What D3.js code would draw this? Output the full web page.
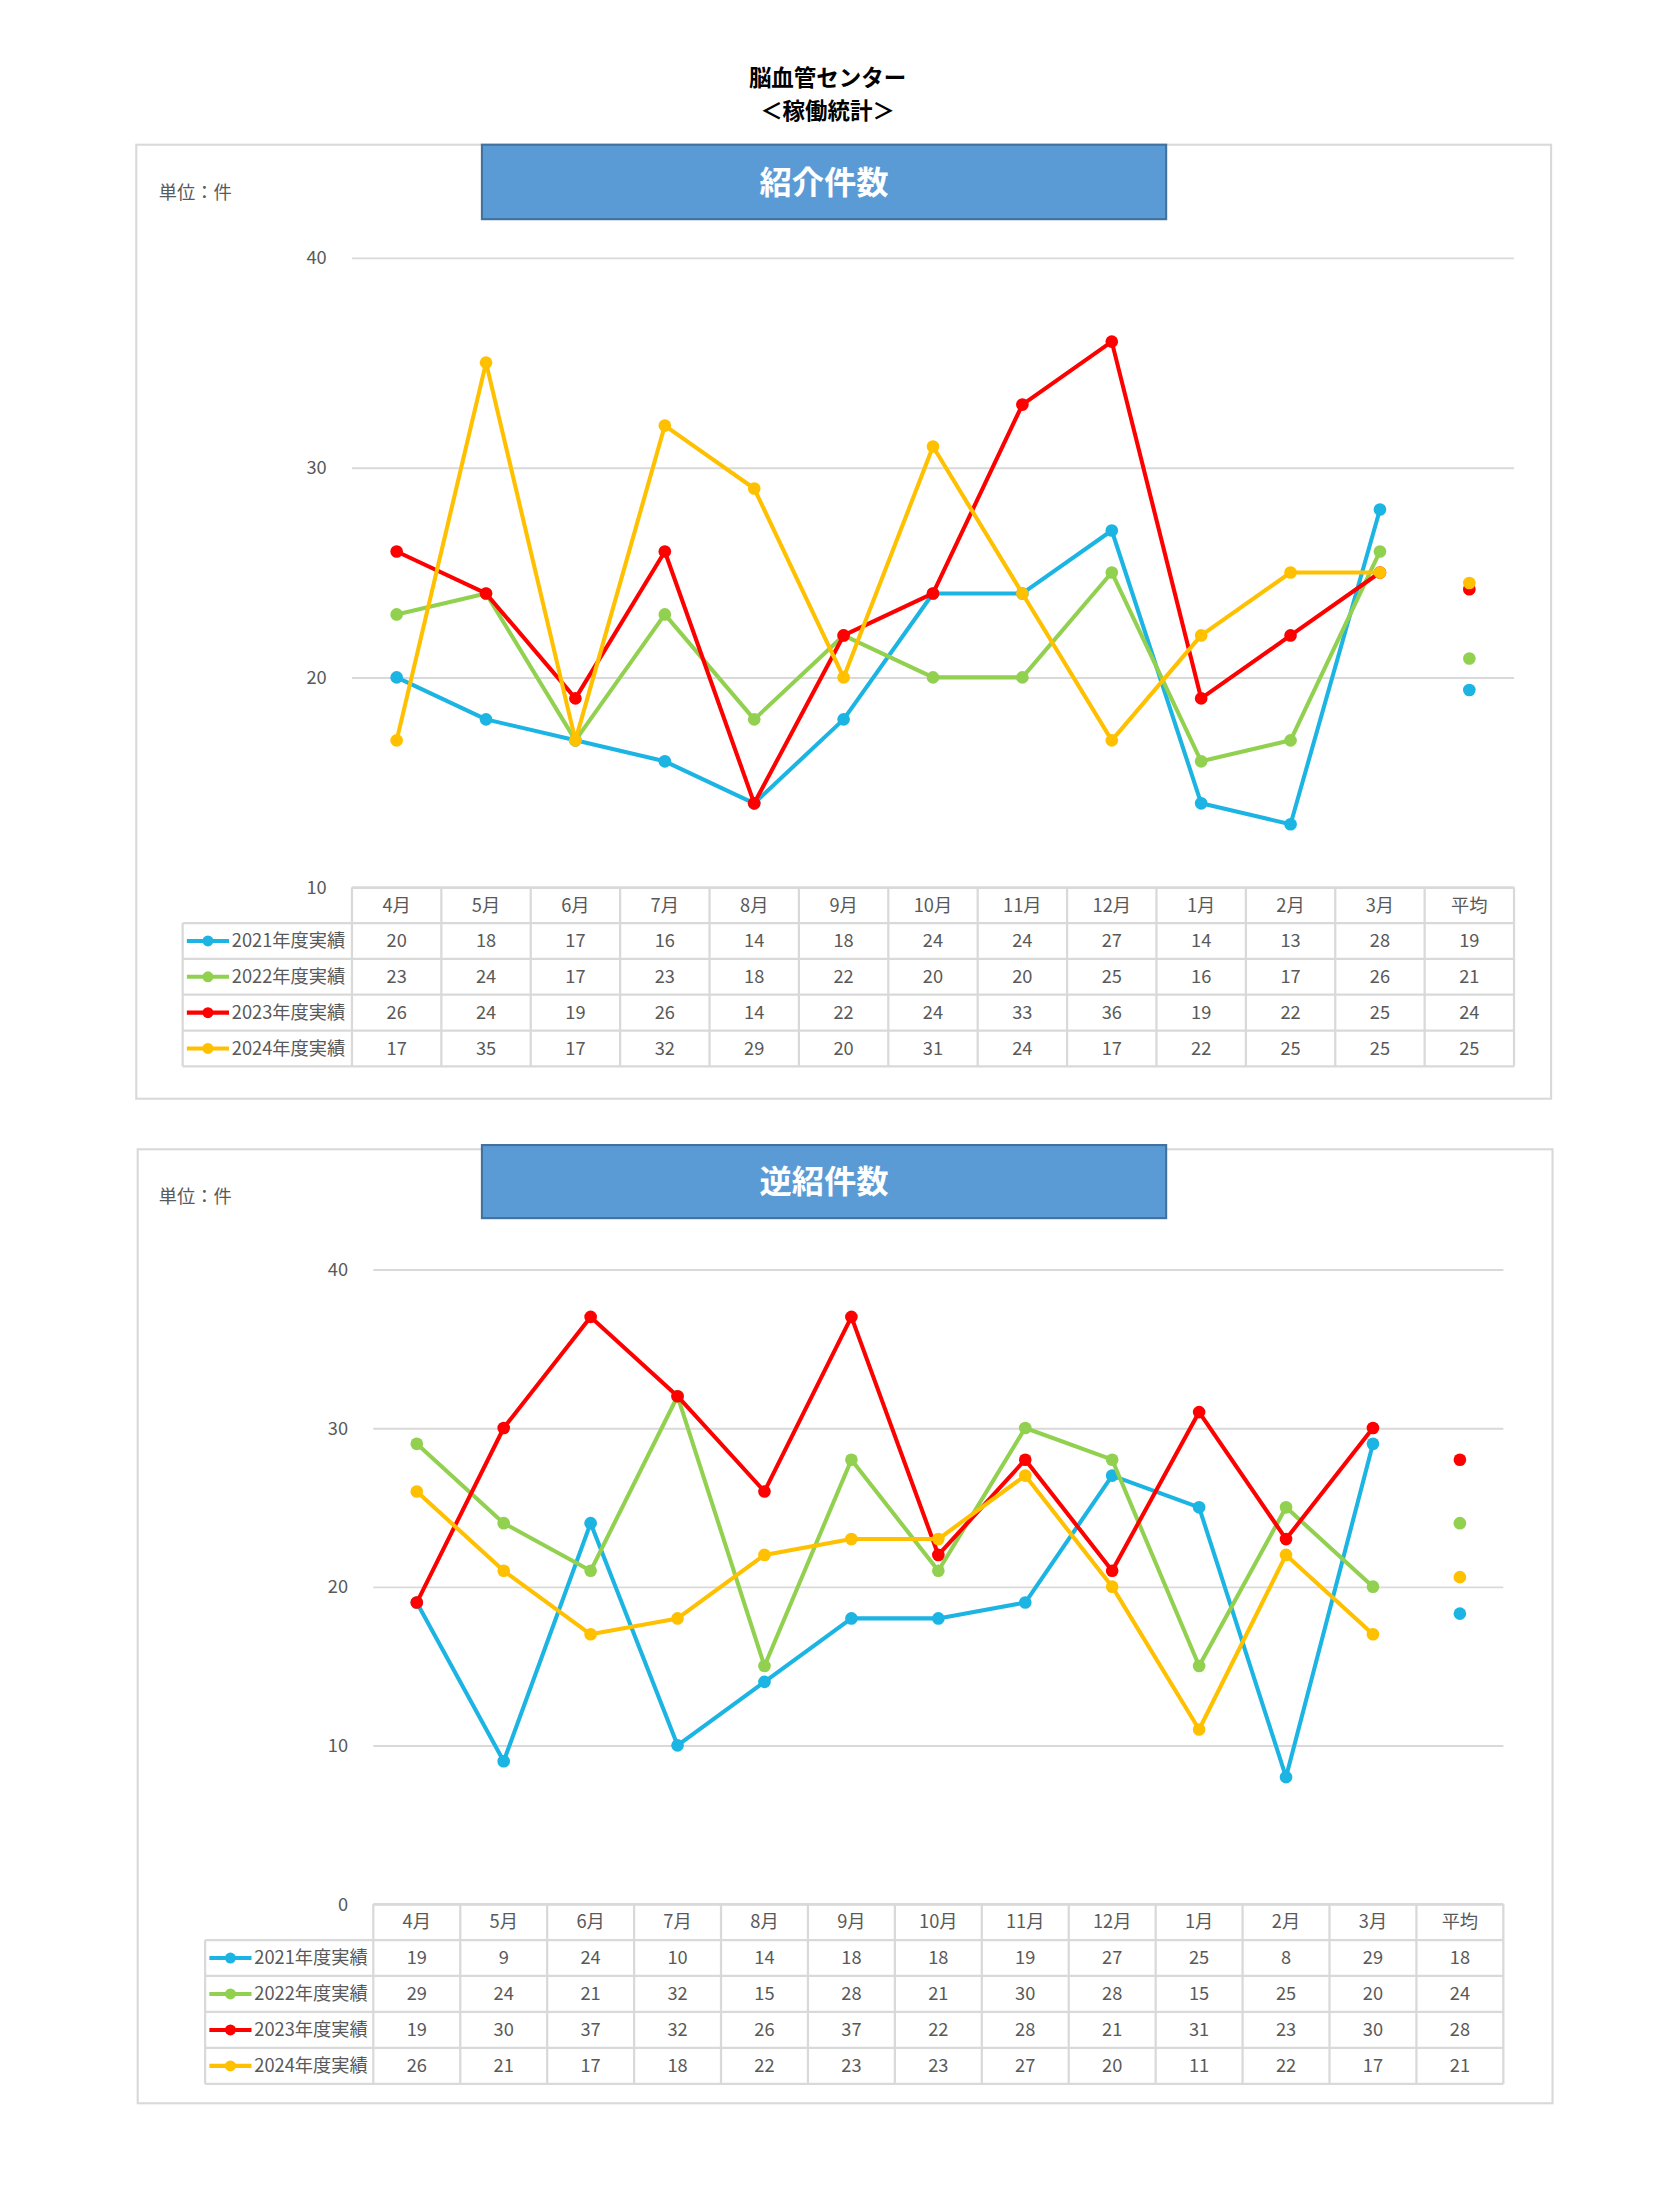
<!DOCTYPE html>
<html>
<head>
<meta charset="utf-8">
<script src="https://cdn.jsdelivr.net/npm/d3@7"></script>
<style>
  body { margin: 0; background: #fff; }
  svg { display: block; }
  text { font-family: "Noto Sans CJK JP", "Noto Sans", sans-serif; }
</style>
</head>
<body>
<div id="page"></div>
<script>
// Categories / series names
var months = ["4月", "5月", "6月", "7月", "8月", "9月", "10月", "11月", "12月", "1月", "2月", "3月"];
var avgLabel = "平均";
var yearNames = ["2021年度実績", "2022年度実績", "2023年度実績", "2024年度実績"];
var yearColors = ["#1CB4E3", "#92D050", "#FF0000", "#FFC000"];

// 紹介件数
var referral2021 = [20, 18, 17, 16, 14, 18, 24, 24, 27, 14, 13, 28];
var referral2022 = [23, 24, 17, 23, 18, 22, 20, 20, 25, 16, 17, 26];
var referral2023 = [26, 24, 19, 26, 14, 22, 24, 33, 36, 19, 22, 25];
var referral2024 = [17, 35, 17, 32, 29, 20, 31, 24, 17, 22, 25, 25];
var referralAvg = [19.4, 20.9, 24.2, 24.5];
var referralTicks = [10, 20, 30, 40];

// 逆紹件数
var reverse2021 = [19, 9, 24, 10, 14, 18, 18, 19, 27, 25, 8, 29];
var reverse2022 = [29, 24, 21, 32, 15, 28, 21, 30, 28, 15, 25, 20];
var reverse2023 = [19, 30, 37, 32, 26, 37, 22, 28, 21, 31, 23, 30];
var reverse2024 = [26, 21, 17, 18, 22, 23, 23, 27, 20, 11, 22, 17];
var reverseAvg = [18.3, 24.0, 28.0, 20.6];
var reverseTicks = [0, 10, 20, 30, 40];

// page is laid out in a 1177 x 1569 grid, then scaled up to the window
var W = 1654, H = 2204, k = 1.405;
var svg = d3.select("#page").append("svg")
    .attr("width", W)
    .attr("height", H)
    .attr("viewBox", "0 0 " + (W / k) + " " + (H / k));

// page title (two lines)
svg.append("text")
    .attr("x", 589).attr("y", 61)
    .attr("text-anchor", "middle")
    .attr("font-size", 16).attr("font-weight", "bold").attr("fill", "#000")
    .text("脳血管センター");
svg.append("text")
    .attr("x", 589).attr("y", 85)
    .attr("text-anchor", "middle")
    .attr("font-size", 16).attr("font-weight", "bold").attr("fill", "#000")
    .text("＜稼働統計＞");

var gridColor = "#D9D9D9";
var textColor = "#595959";

function drawChart(cfg) {
    var g = svg.append("g");
    var series = cfg.series;
    var cats = months.concat([avgLabel]);

    // outer frame
    g.append("rect")
        .attr("x", cfg.box[0]).attr("y", cfg.box[1])
        .attr("width", cfg.box[2]).attr("height", cfg.box[3])
        .attr("fill", "#fff").attr("stroke", gridColor).attr("stroke-width", 1.5);

    // unit label
    g.append("text")
        .attr("x", cfg.unit[0]).attr("y", cfg.unit[1])
        .attr("dy", "0.35em")
        .attr("font-size", 13).attr("fill", textColor)
        .text("単位：件");

    var x = d3.scaleBand().domain(cats).range([cfg.left, cfg.right]);
    var y = d3.scaleLinear().domain(d3.extent(cfg.ticks)).range([cfg.bottom, cfg.top]);

    // y axis + gridlines
    var yAxis = d3.axisLeft(y)
        .tickValues(cfg.ticks)
        .tickSize(-(cfg.right - cfg.left))
        .tickPadding(18)
        .tickFormat(d3.format("d"));
    var ax = g.append("g")
        .attr("transform", "translate(" + cfg.left + ",0)")
        .call(yAxis);
    ax.select(".domain").remove();
    ax.selectAll("line").attr("stroke", gridColor).attr("stroke-width", 1.4);
    ax.selectAll("text")
        .attr("font-size", 13).attr("fill", textColor)
        .attr("font-family", "\"Noto Sans CJK JP\", sans-serif");

    // data table under the plot
    var rowH = cfg.rowH;
    var top = cfg.bottom;
    var tbl = g.append("g");
    var nRows = series.length + 1;
    for (var r = 0; r <= nRows; r++) {
        tbl.append("line")
            .attr("x1", r === 0 ? cfg.left : cfg.legendLeft)
            .attr("x2", cfg.right)
            .attr("y1", top + r * rowH).attr("y2", top + r * rowH)
            .attr("stroke", gridColor).attr("stroke-width", 1.6);
    }
    tbl.append("line")
        .attr("x1", cfg.legendLeft).attr("x2", cfg.legendLeft)
        .attr("y1", top + rowH).attr("y2", top + nRows * rowH)
        .attr("stroke", gridColor).attr("stroke-width", 1.6);
    cats.forEach(function(c) {
        tbl.append("line")
            .attr("x1", x(c)).attr("x2", x(c))
            .attr("y1", top).attr("y2", top + nRows * rowH)
            .attr("stroke", gridColor).attr("stroke-width", 1.6);
    });
    tbl.append("line")
        .attr("x1", cfg.right).attr("x2", cfg.right)
        .attr("y1", top).attr("y2", top + nRows * rowH)
        .attr("stroke", gridColor).attr("stroke-width", 1.6);

    // header
    tbl.selectAll("text.hdr").data(cats).enter()
        .append("text")
        .attr("class", "hdr")
        .attr("x", function(d) { return x(d) + x.bandwidth() / 2; })
        .attr("y", top + rowH / 2)
        .attr("dy", "0.35em")
        .attr("text-anchor", "middle")
        .attr("font-size", 13).attr("fill", textColor)
        .text(function(d) { return d; });

    // series rows with legend keys
    series.forEach(function(s, i) {
        var cy = top + (i + 1.5) * rowH;
        var lx = cfg.legendLeft;
        tbl.append("line")
            .attr("x1", lx + 3).attr("x2", lx + 33)
            .attr("y1", cy).attr("y2", cy)
            .attr("stroke", yearColors[i]).attr("stroke-width", 2.9);
        tbl.append("circle")
            .attr("cx", lx + 18).attr("cy", cy).attr("r", 3.9)
            .attr("fill", yearColors[i]);
        tbl.append("text")
            .attr("x", lx + 35).attr("y", cy)
            .attr("dy", "0.35em")
            .attr("font-size", 13).attr("fill", textColor)
            .text(yearNames[i]);

        var cells = s.values.map(function(v, j) { return { c: months[j], v: v }; });
        cells.push({ c: avgLabel, v: Math.round(s.avg) });
        tbl.selectAll("text.v" + i).data(cells).enter()
            .append("text")
            .attr("class", "v" + i)
            .attr("x", function(d) { return x(d.c) + x.bandwidth() / 2; })
            .attr("y", cy)
            .attr("dy", "0.35em")
            .attr("text-anchor", "middle")
            .attr("font-size", 13).attr("fill", textColor)
            .text(function(d) { return d.v; });
    });

    // lines + markers
    var line = d3.line()
        .x(function(d, j) { return x(months[j]) + x.bandwidth() / 2; })
        .y(function(d) { return y(d); });

    series.forEach(function(s, i) {
        g.append("path")
            .datum(s.values)
            .attr("d", line)
            .attr("fill", "none")
            .attr("stroke", yearColors[i])
            .attr("stroke-width", 2.9)
            .attr("stroke-linejoin", "round");
        g.selectAll("circle.m" + i).data(s.values).enter()
            .append("circle")
            .attr("class", "m" + i)
            .attr("cx", function(d, j) { return x(months[j]) + x.bandwidth() / 2; })
            .attr("cy", function(d) { return y(d); })
            .attr("r", 4.5)
            .attr("fill", yearColors[i]);
    });
    // averages as lone points
    series.forEach(function(s, i) {
        g.append("circle")
            .attr("cx", x(avgLabel) + x.bandwidth() / 2)
            .attr("cy", y(s.avg))
            .attr("r", 4.5)
            .attr("fill", yearColors[i]);
    });

    // title banner
    g.append("rect")
        .attr("x", cfg.banner[0]).attr("y", cfg.banner[1])
        .attr("width", cfg.banner[2]).attr("height", cfg.banner[3])
        .attr("fill", "#5B9BD5").attr("stroke", "#41719C").attr("stroke-width", 1.5);
    g.append("text")
        .attr("x", cfg.banner[0] + cfg.banner[2] / 2)
        .attr("y", cfg.banner[1] + cfg.banner[3] / 2)
        .attr("dy", "0.36em")
        .attr("text-anchor", "middle")
        .attr("font-size", 23).attr("font-weight", "bold").attr("fill", "#fff")
        .text(cfg.title);
}

drawChart({
    title: "紹介件数",
    box: [97, 103, 1007, 679],
    banner: [343, 103, 487, 53],
    unit: [113, 137],
    left: 250.5, right: 1077.6, top: 183.4, bottom: 631.5,
    legendLeft: 130, rowH: 25.5,
    ticks: referralTicks,
    series: [
        { values: referral2021, avg: referralAvg[0] },
        { values: referral2022, avg: referralAvg[1] },
        { values: referral2023, avg: referralAvg[2] },
        { values: referral2024, avg: referralAvg[3] }
    ]
});

drawChart({
    title: "逆紹件数",
    box: [98, 818, 1007, 679],
    banner: [343, 815, 487, 52],
    unit: [113, 852],
    left: 265.7, right: 1070, top: 903.4, bottom: 1355.2,
    legendLeft: 146, rowH: 25.6,
    ticks: reverseTicks,
    series: [
        { values: reverse2021, avg: reverseAvg[0] },
        { values: reverse2022, avg: reverseAvg[1] },
        { values: reverse2023, avg: reverseAvg[2] },
        { values: reverse2024, avg: reverseAvg[3] }
    ]
});
</script>
</body>
</html>
